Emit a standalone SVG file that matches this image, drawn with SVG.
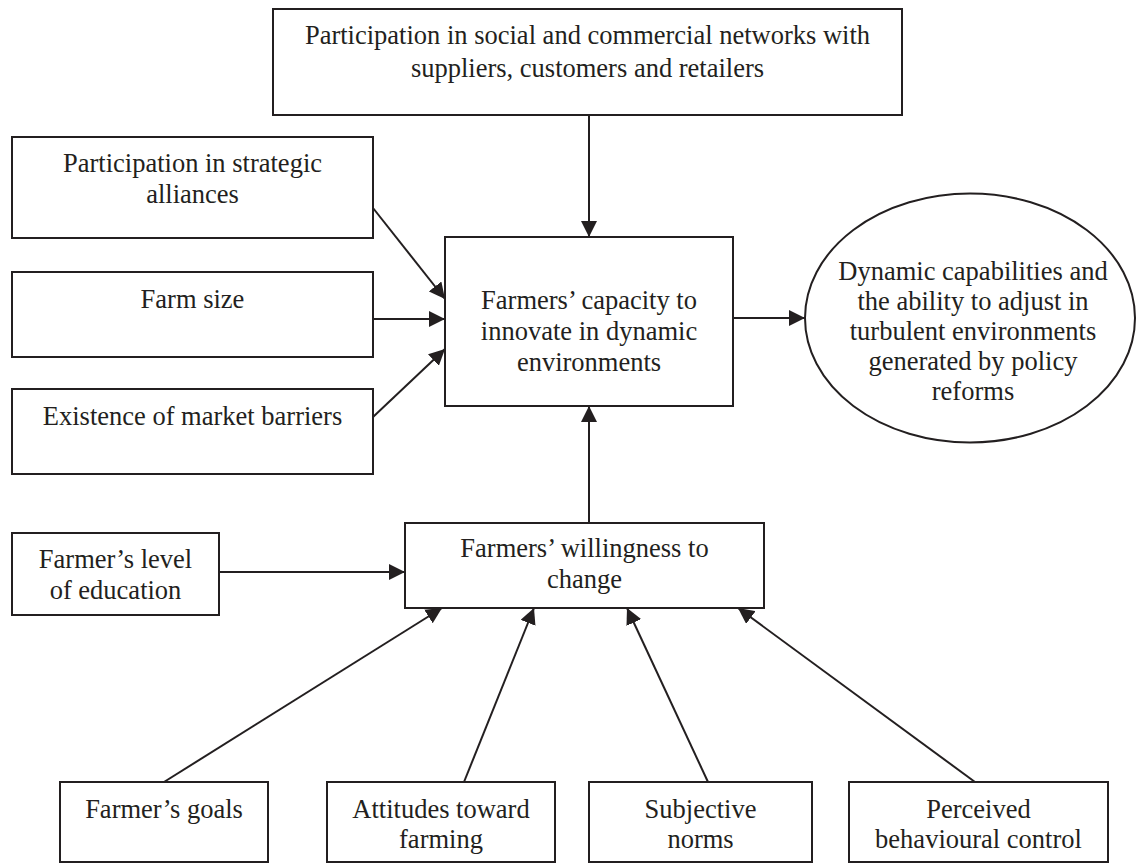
<svg xmlns="http://www.w3.org/2000/svg" width="1137" height="863" viewBox="0 0 1137 863">
<style>
.box{fill:#fff;stroke:#231f20;stroke-width:2}
.t{font-family:"Liberation Serif","Times New Roman",serif;font-size:26.5px;fill:#231f20;text-anchor:middle}
.c{stroke:#231f20;stroke-width:2;fill:none;marker-end:url(#ah)}
</style>
<defs>
<marker id="ah" markerUnits="userSpaceOnUse" markerWidth="17" markerHeight="16" refX="16" refY="8" orient="auto">
<path d="M0,0 L16,8 L0,16 z" fill="#231f20"/>
</marker>
</defs>
<rect width="1137" height="863" fill="#fff"/>
<g id="connectors">
<line class="c" x1="589" y1="115" x2="589" y2="237"/>
<line class="c" x1="373" y1="208" x2="445" y2="299"/>
<line class="c" x1="373" y1="319" x2="445" y2="319"/>
<line class="c" x1="373" y1="417" x2="445" y2="349"/>
<line class="c" x1="733" y1="318" x2="805" y2="318"/>
<line class="c" x1="589" y1="523" x2="589" y2="406"/>
<line class="c" x1="219" y1="572" x2="405" y2="572"/>
<line class="c" x1="164" y1="782" x2="442" y2="608"/>
<line class="c" x1="464" y1="782" x2="534" y2="608"/>
<line class="c" x1="708" y1="782" x2="627" y2="608"/>
<line class="c" x1="975" y1="782" x2="738" y2="608"/>
</g>
<g id="networks">
<rect class="box" x="273" y="9" width="629" height="106"/>
<text class="t" x="587.5" y="44">Participation in social and commercial networks with</text>
<text class="t" x="587.5" y="77">suppliers, customers and retailers</text>
</g>
<g id="alliances">
<rect class="box" x="12" y="137" width="361" height="101"/>
<text class="t" x="192.5" y="172">Participation in strategic</text>
<text class="t" x="192.5" y="203">alliances</text>
</g>
<g id="farmsize">
<rect class="box" x="12" y="272" width="361" height="85"/>
<text class="t" x="192.5" y="308">Farm size</text>
</g>
<g id="barriers">
<rect class="box" x="12" y="389" width="361" height="85"/>
<text class="t" x="192.5" y="425">Existence of market barriers</text>
</g>
<g id="capacity">
<rect class="box" x="445" y="237" width="288" height="169"/>
<text class="t" x="589" y="309">Farmers’ capacity to</text>
<text class="t" x="589" y="340">innovate in dynamic</text>
<text class="t" x="589" y="371">environments</text>
</g>
<g id="dynamic">
<ellipse cx="970" cy="318" rx="165" ry="124.5" fill="#fff" stroke="#231f20" stroke-width="2"/>
<text class="t" x="973" y="280">Dynamic capabilities and</text>
<text class="t" x="973" y="310">the ability to adjust in</text>
<text class="t" x="973" y="340">turbulent environments</text>
<text class="t" x="973" y="370">generated by policy</text>
<text class="t" x="973" y="400">reforms</text>
</g>
<g id="willingness">
<rect class="box" x="405" y="523" width="359" height="85"/>
<text class="t" x="584.5" y="557">Farmers’ willingness to</text>
<text class="t" x="584.5" y="588">change</text>
</g>
<g id="education">
<rect class="box" x="12" y="533" width="207" height="82"/>
<text class="t" x="115.5" y="568">Farmer’s level</text>
<text class="t" x="115.5" y="599">of education</text>
</g>
<g id="goals">
<rect class="box" x="60" y="782" width="208" height="80"/>
<text class="t" x="164" y="818">Farmer’s goals</text>
</g>
<g id="attitudes">
<rect class="box" x="327" y="782" width="228" height="80"/>
<text class="t" x="441" y="818">Attitudes toward</text>
<text class="t" x="441" y="848">farming</text>
</g>
<g id="norms">
<rect class="box" x="589" y="782" width="223" height="80"/>
<text class="t" x="700.5" y="818">Subjective</text>
<text class="t" x="700.5" y="848">norms</text>
</g>
<g id="control">
<rect class="box" x="849" y="782" width="259" height="80"/>
<text class="t" x="978.5" y="818">Perceived</text>
<text class="t" x="978.5" y="848">behavioural control</text>
</g>
</svg>
